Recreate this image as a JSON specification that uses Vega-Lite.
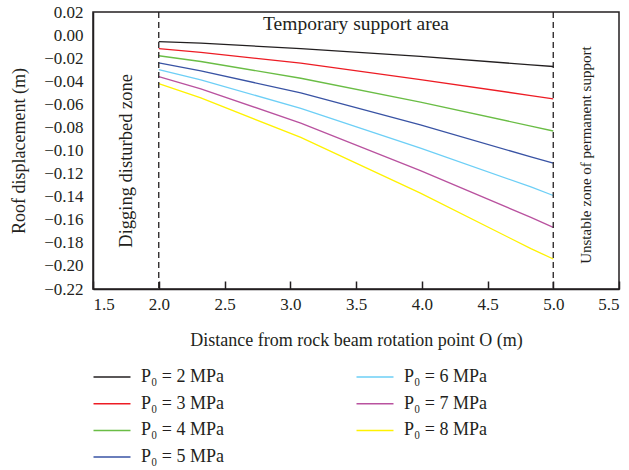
{
  "$schema": "https://vega.github.io/schema/vega-lite/v6.json",
  "autosize": "none",
  "width": 526,
  "height": 277,
  "padding": {"left": 93, "top": 12, "right": 10, "bottom": 181},
  "background": "white",
  "config": {
    "font": "Liberation Serif",
    "view": {"stroke": "#231f20", "strokeWidth": 1.5},
    "axis": {
      "grid": false,
      "domainColor": "#231f20",
      "domainWidth": 1.5,
      "tickColor": "#231f20",
      "labelColor": "#231f20",
      "titleColor": "#231f20",
      "labelFont": "Liberation Serif",
      "titleFont": "Liberation Serif",
      "labelFontSize": 17,
      "titleFontSize": 18,
      "titleFontWeight": "normal",
      "labelOverlap": false
    }
  },
  "datasets": {
    "curves": [
      {"x": 2.0, "series": "P₀ = 2 MPa", "d": -0.0057},
      {"x": 2.32, "series": "P₀ = 2 MPa", "d": -0.0069},
      {"x": 3.08, "series": "P₀ = 2 MPa", "d": -0.0118},
      {"x": 3.99, "series": "P₀ = 2 MPa", "d": -0.0185},
      {"x": 4.83, "series": "P₀ = 2 MPa", "d": -0.0258},
      {"x": 5.0, "series": "P₀ = 2 MPa", "d": -0.0272},

      {"x": 2.0, "series": "P₀ = 3 MPa", "d": -0.0118},
      {"x": 2.32, "series": "P₀ = 3 MPa", "d": -0.015},
      {"x": 3.08, "series": "P₀ = 3 MPa", "d": -0.0243},
      {"x": 3.99, "series": "P₀ = 3 MPa", "d": -0.0385},
      {"x": 4.83, "series": "P₀ = 3 MPa", "d": -0.0524},
      {"x": 5.0, "series": "P₀ = 3 MPa", "d": -0.0553},

      {"x": 2.0, "series": "P₀ = 4 MPa", "d": -0.0179},
      {"x": 2.32, "series": "P₀ = 4 MPa", "d": -0.0229},
      {"x": 3.08, "series": "P₀ = 4 MPa", "d": -0.0374},
      {"x": 3.99, "series": "P₀ = 4 MPa", "d": -0.058},
      {"x": 4.83, "series": "P₀ = 4 MPa", "d": -0.0788},
      {"x": 5.0, "series": "P₀ = 4 MPa", "d": -0.0831},

      {"x": 2.0, "series": "P₀ = 5 MPa", "d": -0.024},
      {"x": 2.32, "series": "P₀ = 5 MPa", "d": -0.031},
      {"x": 3.08, "series": "P₀ = 5 MPa", "d": -0.0501},
      {"x": 3.99, "series": "P₀ = 5 MPa", "d": -0.0779},
      {"x": 4.83, "series": "P₀ = 5 MPa", "d": -0.1055},
      {"x": 5.0, "series": "P₀ = 5 MPa", "d": -0.111},

      {"x": 2.0, "series": "P₀ = 6 MPa", "d": -0.03},
      {"x": 2.32, "series": "P₀ = 6 MPa", "d": -0.0388},
      {"x": 3.08, "series": "P₀ = 6 MPa", "d": -0.0635},
      {"x": 3.99, "series": "P₀ = 6 MPa", "d": -0.098},
      {"x": 4.83, "series": "P₀ = 6 MPa", "d": -0.1316},
      {"x": 5.0, "series": "P₀ = 6 MPa", "d": -0.139},

      {"x": 2.0, "series": "P₀ = 7 MPa", "d": -0.036},
      {"x": 2.32, "series": "P₀ = 7 MPa", "d": -0.0466},
      {"x": 3.08, "series": "P₀ = 7 MPa", "d": -0.0762},
      {"x": 3.99, "series": "P₀ = 7 MPa", "d": -0.1174},
      {"x": 4.83, "series": "P₀ = 7 MPa", "d": -0.158},
      {"x": 5.0, "series": "P₀ = 7 MPa", "d": -0.1666},

      {"x": 2.0, "series": "P₀ = 8 MPa", "d": -0.042},
      {"x": 2.32, "series": "P₀ = 8 MPa", "d": -0.0544},
      {"x": 3.08, "series": "P₀ = 8 MPa", "d": -0.0887},
      {"x": 3.99, "series": "P₀ = 8 MPa", "d": -0.137},
      {"x": 4.83, "series": "P₀ = 8 MPa", "d": -0.185},
      {"x": 5.0, "series": "P₀ = 8 MPa", "d": -0.194}
    ],
    "leftNote": [
      {"x": 1.75, "y": -0.109, "text": "Digging disturbed zone"}
    ],
    "rightNote": [
      {"x": 5.25, "y": -0.104, "text": "Unstable zone of permanent support"}
    ],
    "bandNote": [
      {"x": 3.5, "y": 0.01, "text": "Temporary support area"}
    ],
    "boundaries": [{"x": 2.0}, {"x": 5.0}]
  },
  "layer": [
    {
      "data": {"name": "curves"},
      "mark": {"type": "line", "strokeWidth": 1.3, "clip": true},
      "encoding": {
        "x": {
          "field": "x",
          "type": "quantitative",
          "scale": {"domain": [1.5, 5.5], "nice": false, "zero": false},
          "axis": {
            "values": [1.5, 2.0, 2.5, 3.0, 3.5, 4.0, 4.5, 5.0, 5.5],
            "format": ".1f",
            "tickSize": -8,
            "tickWidth": 1.5,
            "labelPadding": 15,
            "labelOverlap": false,
            "title": "Distance from rock beam rotation point O (m)",
            "titlePadding": 19
          }
        },
        "y": {
          "field": "d",
          "type": "quantitative",
          "scale": {"domain": [-0.22, 0.02], "nice": false, "zero": false},
          "axis": {
            "tickCount": 12,
            "format": ".2f",
            "ticks": false,
            "labelPadding": 10,
            "labelOverlap": false,
            "labelSeparation": 0,
            "title": "Roof displacement (m)",
            "titlePadding": 15
          }
        },
        "color": {
          "field": "series",
          "type": "nominal",
          "scale": {
            "domain": ["P₀ = 2 MPa", "P₀ = 3 MPa", "P₀ = 4 MPa", "P₀ = 5 MPa", "P₀ = 6 MPa", "P₀ = 7 MPa", "P₀ = 8 MPa"],
            "range": ["#231f20", "#ed1c24", "#6abd45", "#3953a4", "#6dcff6", "#b9529f", "#fff200"]
          },
          "legend": {
            "title": null,
            "orient": "none",
            "legendX": 10,
            "legendY": 356,
            "columns": 2,
            "columnPadding": 129,
            "rowPadding": 8.7,
            "symbolType": "M-3,0H3",
            "symbolSize": 152,
            "symbolStrokeWidth": 1.5,
            "labelFont": "Liberation Serif",
            "labelFontSize": 18,
            "labelColor": "#231f20",
            "labelOffset": 20
          }
        }
      }
    },
    {
      "mark": {"type": "rule", "color": "#231f20", "strokeWidth": 1.5},
      "encoding": {"y": {"datum": 0, "type": "quantitative"}}
    },
    {
      "data": {"name": "boundaries"},
      "mark": {"type": "rule", "color": "#231f20", "strokeWidth": 1.3, "strokeDash": [6, 4]},
      "encoding": {"x": {"field": "x", "type": "quantitative"}}
    },
    {
      "data": {"name": "leftNote"},
      "mark": {"type": "text", "angle": 270, "font": "Liberation Serif", "fontSize": 18.5, "color": "#231f20", "baseline": "middle", "align": "center"},
      "encoding": {
        "x": {"field": "x", "type": "quantitative"},
        "y": {"field": "y", "type": "quantitative"},
        "text": {"field": "text"}
      }
    },
    {
      "data": {"name": "rightNote"},
      "mark": {"type": "text", "angle": 270, "font": "Liberation Serif", "fontSize": 15, "color": "#231f20", "baseline": "middle", "align": "center"},
      "encoding": {
        "x": {"field": "x", "type": "quantitative"},
        "y": {"field": "y", "type": "quantitative"},
        "text": {"field": "text"}
      }
    },
    {
      "data": {"name": "bandNote"},
      "mark": {"type": "text", "font": "Liberation Serif", "fontSize": 19.5, "color": "#231f20", "baseline": "middle", "align": "center"},
      "encoding": {
        "x": {"field": "x", "type": "quantitative"},
        "y": {"field": "y", "type": "quantitative"},
        "text": {"field": "text"}
      }
    }
  ]
}
